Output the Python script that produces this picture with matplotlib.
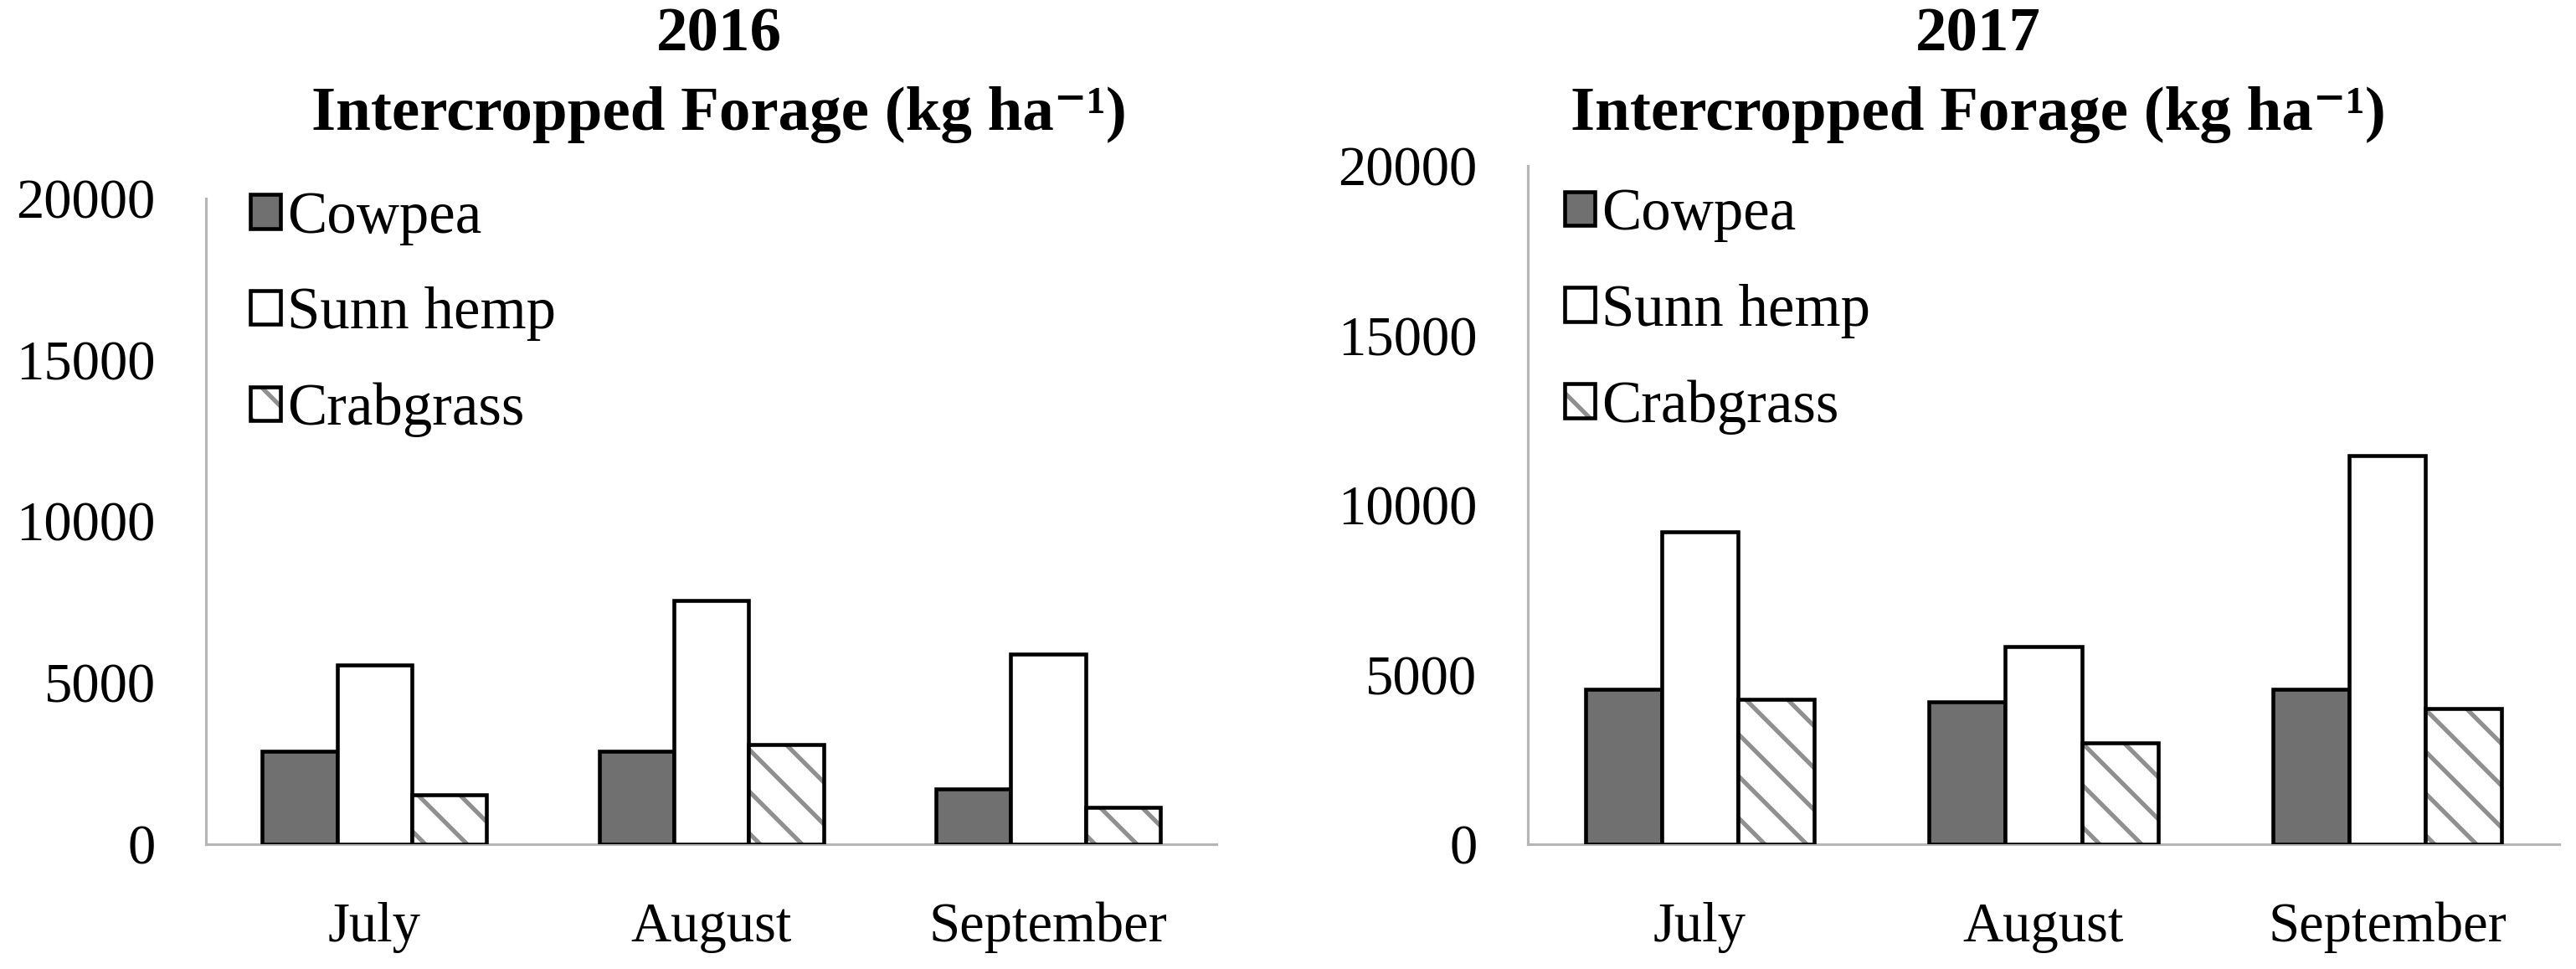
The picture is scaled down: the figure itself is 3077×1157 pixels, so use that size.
import numpy as np
import matplotlib
matplotlib.use('Agg')
import matplotlib.pyplot as plt
from matplotlib.patches import Patch
from matplotlib.legend_handler import HandlerTuple

plt.rcParams['font.family'] = ['Liberation Serif', 'DejaVu Serif']
plt.rcParams['hatch.linewidth'] = 2.5

months = ['July', 'August', 'September']
species = ['Cowpea', 'Sunn hemp', 'Crabgrass']

# 2016 forage (kg ha-1)
cowpea_2016 = [2870, 2870, 1720]
sunn_2016 = [5560, 7550, 5900]
crab_2016 = [1520, 3080, 1150]

# 2017 forage (kg ha-1)
cowpea_2017 = [4560, 4200, 4560]
sunn_2017 = [9200, 5830, 11450]
crab_2017 = [4280, 2980, 4000]

years = ['2016', '2017']

fig = plt.figure(figsize=(3077/150, 1157/150), dpi=150)
fig.patch.set_facecolor('white')

axes_pos = [[0.0800, 0.1288, 0.3923, 0.6664],
            [0.5931, 0.1288, 0.4004, 0.7000]]
title_x = [0.279, 0.768]
leg_anchor = [(0.044, 1.012), (0.036, 0.968)]

data = [(cowpea_2016, sunn_2016, crab_2016), (cowpea_2017, sunn_2017, crab_2017)]

x = np.arange(len(months))
w = 0.222
edge_lw = 2.2
gray_axis = '#b5b5b5'
cow_col = '#707070'
hatch_col = '#8f8f8f'

for i in range(2):
    ax = fig.add_axes(axes_pos[i])
    cow, sunn, crab = data[i]
    ax.bar(x - w, cow, w, color=cow_col, edgecolor='black', linewidth=edge_lw, zorder=3)
    ax.bar(x, sunn, w, color='white', edgecolor='black', linewidth=edge_lw, zorder=3)
    # hatch layer (gray stripes) then black outline on top
    ax.bar(x + w, crab, w, color='white', edgecolor=hatch_col, linewidth=0, hatch='\\', zorder=3)
    ax.bar(x + w, crab, w, fill=False, edgecolor='black', linewidth=edge_lw, zorder=4)

    ax.set_xlim(-0.5, 2.5)
    ax.set_ylim(0, 20000)
    ax.set_yticks([0, 5000, 10000, 15000, 20000])
    ax.set_xticks(x)
    ax.set_xticklabels(months, fontsize=32)
    ax.tick_params(axis='y', length=0, pad=29, labelsize=32)
    ax.tick_params(axis='x', length=0, pad=33)
    for s in ['top', 'right']:
        ax.spines[s].set_visible(False)
    ax.spines['left'].set_color(gray_axis)
    ax.spines['bottom'].set_color(gray_axis)
    ax.spines['left'].set_linewidth(1.5)
    ax.spines['bottom'].set_linewidth(1.5)

    h_cow = Patch(facecolor=cow_col, edgecolor='black', linewidth=edge_lw)
    h_sunn = Patch(facecolor='white', edgecolor='black', linewidth=edge_lw)
    h_crab = (Patch(facecolor='white', edgecolor=hatch_col, linewidth=0, hatch='\\'),
              Patch(fill=False, edgecolor='black', linewidth=edge_lw))
    ax.legend([h_cow, h_sunn, h_crab], species, loc='upper left',
              bbox_to_anchor=leg_anchor[i], frameon=False, fontsize=34,
              handlelength=0.5, handleheight=0.5, handletextpad=0.12,
              labelspacing=0.7, borderpad=0, borderaxespad=0,
              handler_map={tuple: HandlerTuple(ndivide=1, pad=0)})

    fig.text(title_x[i], 0.963, years[i], ha='center', va='center',
             fontsize=36, fontweight='bold')
    fig.text(title_x[i], 0.882, 'Intercropped Forage (kg ha\u207b\u00b9)',
             ha='center', va='center', fontsize=36, fontweight='bold')

plt.savefig('out.png', dpi=150, facecolor='white')
